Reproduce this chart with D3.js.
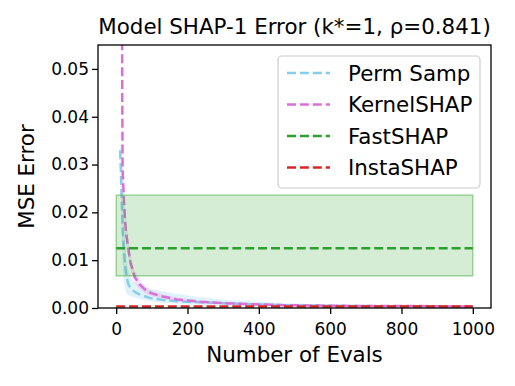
<!DOCTYPE html>
<html>
<head>
<meta charset="utf-8">
<script src="https://cdn.jsdelivr.net/npm/d3@7"></script>
<style>
  body { margin: 0; background: #fff; }
  svg { font-family: "DejaVu Sans", sans-serif; }
</style>
</head>
<body>
<svg id="chart" width="515" height="386"></svg>
<script>
// Perm Samp
const permEvals = [11, 13, 15, 18, 21, 25, 29, 35, 42, 55, 70, 95, 130, 170, 235, 300, 375, 470, 570, 700, 850, 1000];
const permMean  = [0.033, 0.029, 0.0236, 0.017, 0.0125, 0.009, 0.0065, 0.0048, 0.0040, 0.0032, 0.0027, 0.0021, 0.0017, 0.0014, 0.0012, 0.0010, 0.0008, 0.0006, 0.0005, 0.0004, 0.00035, 0.0003];
const permHigh  = [0.035, 0.034, 0.030, 0.024, 0.019, 0.014, 0.010, 0.0075, 0.0062, 0.0052, 0.0046, 0.0040, 0.0035, 0.0030, 0.0023, 0.0018, 0.0014, 0.0010, 0.0008, 0.0006, 0.0005, 0.0004];
const permLow   = [0.030, 0.024, 0.018, 0.010, 0.006, 0.004, 0.0030, 0.0027, 0.0024, 0.0021, 0.0018, 0.0014, 0.0011, 0.0009, 0.0007, 0.0006, 0.0005, 0.0004, 0.0003, 0.0003, 0.0002, 0.0002];

// KernelSHAP
const kernelEvals = [12, 15, 16, 17, 18, 21, 25, 29, 34, 40, 52, 65, 80, 98, 130, 170, 235, 300, 375, 470, 570, 700, 850, 1000];
const kernelMean  = [0.25, 0.12, 0.08, 0.045, 0.029, 0.0236, 0.018, 0.015, 0.0125, 0.0095, 0.0065, 0.0050, 0.0039, 0.0031, 0.0024, 0.0018, 0.0013, 0.0010, 0.0008, 0.0006, 0.0005, 0.0004, 0.0004, 0.0003];
const kernelHigh  = [0.29, 0.14, 0.093, 0.052, 0.034, 0.027, 0.021, 0.0175, 0.0145, 0.011, 0.0077, 0.0060, 0.0047, 0.0037, 0.0029, 0.0022, 0.0016, 0.0012, 0.0010, 0.0007, 0.0006, 0.0005, 0.0005, 0.0004];
const kernelLow   = [0.21, 0.10, 0.067, 0.038, 0.024, 0.020, 0.015, 0.0125, 0.0105, 0.008, 0.0053, 0.0040, 0.0031, 0.0025, 0.0019, 0.0014, 0.0010, 0.0008, 0.0006, 0.0005, 0.0004, 0.0003, 0.0003, 0.0002];

// FastSHAP / InstaSHAP (flat)
const flatEvals = [0, 1000];
const fastMean = [0.0125, 0.0125];
const fastHigh = [0.0236, 0.0236];
const fastLow  = [0.0067, 0.0067];
const instaMean = [0.0003, 0.0003];

const xTicks = [0, 200, 400, 600, 800, 1000];
const yTicks = [0, 0.01, 0.02, 0.03, 0.04, 0.05];
const seriesNames = ["Perm Samp", "KernelSHAP", "FastSHAP", "InstaSHAP"];
const seriesColors = ["#87ceeb", "#da70d6", "#2ca02c", "#d62728"];

const svg = d3.select("#chart");
const m = { left: 98, right: 491, top: 45, bottom: 308 };

const x = d3.scaleLinear().domain([-51, 1051]).range([m.left, m.right]);
const y = d3.scaleLinear().domain([0, 0.055]).range([m.bottom, m.top]);

svg.append("defs").append("clipPath").attr("id", "clip")
  .append("rect").attr("x", m.left).attr("y", m.top).attr("width", m.right - m.left).attr("height", m.bottom - m.top);

const plot = svg.append("g").attr("clip-path", "url(#clip)");

function zip(ev, a, b) { return ev.map((e, i) => ({ e, a: a[i], b: b ? b[i] : null })); }

const area = d3.area().x(d => x(d.e)).y0(d => y(d.b)).y1(d => y(d.a));
const line = d3.line().x(d => x(d.e)).y(d => y(d.a));

function band(ev, hi, lo, color, op, edge) {
  plot.append("path").datum(zip(ev, hi, lo)).attr("d", area)
    .attr("fill", color).attr("fill-opacity", op)
    .attr("stroke", edge ? color : "none").attr("stroke-opacity", 0.5).attr("stroke-width", 1.2);
}
function dashed(ev, vals, color) {
  plot.append("path").datum(zip(ev, vals)).attr("d", line)
    .attr("fill", "none").attr("stroke", color).attr("stroke-width", 2.5)
    .attr("stroke-dasharray", "9,3.9");
}

band(permEvals, permHigh, permLow, seriesColors[0], 0.25, false);
dashed(permEvals, permMean, seriesColors[0]);
band(kernelEvals, kernelHigh, kernelLow, seriesColors[1], 0.2, false);
dashed(kernelEvals, kernelMean, seriesColors[1]);
band(flatEvals, fastHigh, fastLow, seriesColors[2], 0.2, true);
dashed(flatEvals, fastMean, seriesColors[2]);
dashed(flatEvals, instaMean, seriesColors[3]);

// axes
const xAxis = svg.append("g").attr("transform", `translate(0,${m.bottom})`)
  .call(d3.axisBottom(x).tickValues(xTicks).tickFormat(d3.format("d")).tickSize(6).tickSizeOuter(0));
const yAxis = svg.append("g").attr("transform", `translate(${m.left},0)`)
  .call(d3.axisLeft(y).tickValues(yTicks).tickFormat(d3.format(".2f")).tickSize(6).tickSizeOuter(0));
[xAxis, yAxis].forEach(a => {
  a.select(".domain").remove();
  a.selectAll(".tick line").attr("stroke", "#000").attr("stroke-width", 1.3);
  a.selectAll(".tick text").attr("font-size", 17).attr("fill", "#000").attr("font-family", "DejaVu Sans");
});
xAxis.selectAll(".tick text").attr("dy", "1.05em");
yAxis.selectAll(".tick text").attr("x", -9);

svg.append("rect").attr("x", m.left).attr("y", m.top).attr("width", m.right - m.left).attr("height", m.bottom - m.top)
  .attr("fill", "none").attr("stroke", "#000").attr("stroke-width", 1.3);

// labels
svg.append("text").attr("x", (m.left + m.right) / 2).attr("y", 34).attr("text-anchor", "middle")
  .attr("font-size", 21.4).text("Model SHAP-1 Error (k*=1, ρ=0.841)");
svg.append("text").attr("x", (m.left + m.right) / 2).attr("y", 362).attr("text-anchor", "middle")
  .attr("font-size", 21.4).text("Number of Evals");
svg.append("text").attr("transform", `translate(34,${(m.top + m.bottom) / 2}) rotate(-90)`).attr("text-anchor", "middle")
  .attr("font-size", 21.4).text("MSE Error");

// legend
const lg = svg.append("g");
lg.append("rect").attr("x", 278).attr("y", 56).attr("width", 202).attr("height", 132).attr("rx", 4)
  .attr("fill", "#fff").attr("fill-opacity", 0.8).attr("stroke", "#ccc").attr("stroke-width", 1.2);
seriesNames.forEach((name, i) => {
  const cy = 73 + i * 31.5;
  lg.append("line").attr("x1", 287).attr("x2", 330).attr("y1", cy).attr("y2", cy)
    .attr("stroke", seriesColors[i]).attr("stroke-width", 2.5).attr("stroke-dasharray", "9,3.9");
  lg.append("text").attr("x", 348).attr("y", cy).attr("dy", "0.36em").attr("font-size", 21.4).text(name);
});
</script>
</body>
</html>
